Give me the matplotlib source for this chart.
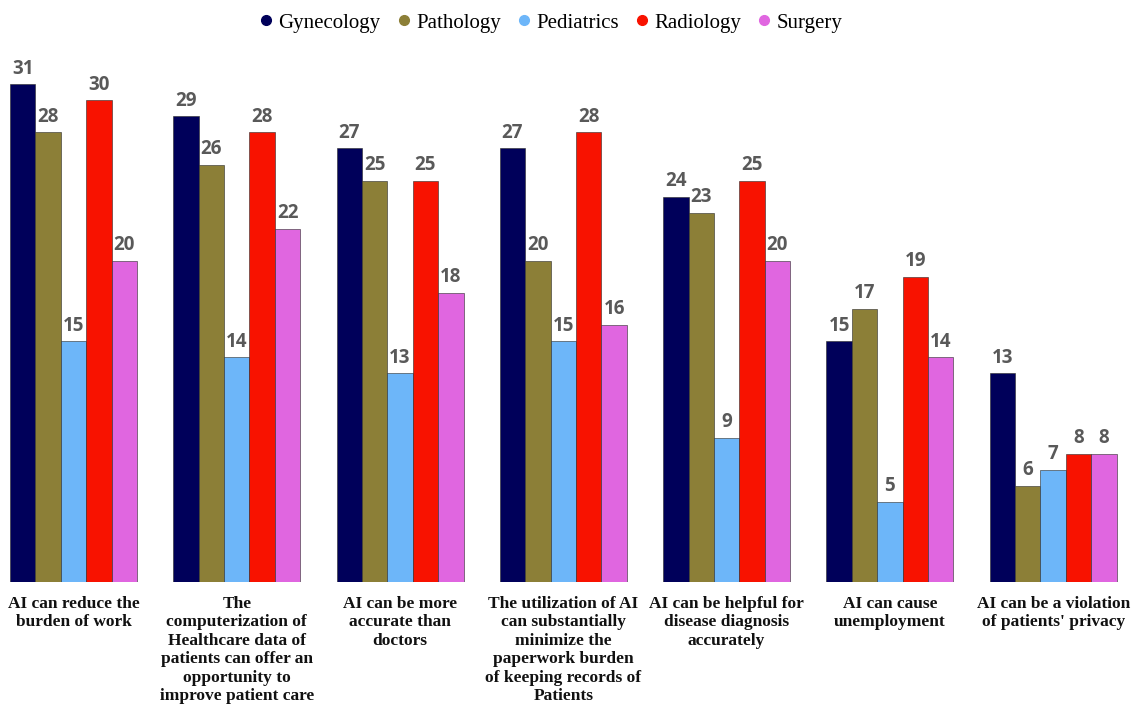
import matplotlib
matplotlib.use("Agg")
import matplotlib.pyplot as plt
import numpy as np

categories = [
    "AI can reduce the\nburden of work",
    "The\ncomputerization of\nHealthcare data of\npatients can offer an\nopportunity to\nimprove patient care",
    "AI can be more\naccurate than\ndoctors",
    "The utilization of AI\ncan substantially\nminimize the\npaperwork burden\nof keeping records of\nPatients",
    "AI can be helpful for\ndisease diagnosis\naccurately",
    "AI can cause\nunemployment",
    "AI can be a violation\nof patients' privacy",
]
series_names = ["Gynecology", "Pathology", "Pediatrics", "Radiology", "Surgery"]
gynecology = [31, 29, 27, 27, 24, 15, 13]
pathology = [28, 26, 25, 20, 23, 17, 6]
pediatrics = [15, 14, 13, 15, 9, 5, 7]
radiology = [30, 28, 25, 28, 25, 19, 8]
surgery = [20, 22, 18, 16, 20, 14, 8]
colors = ["#00005A", "#8C7F37", "#6DB6F9", "#F81200", "#E066E0"]

values = [gynecology, pathology, pediatrics, radiology, surgery]

fig = plt.figure(figsize=(11.32, 7.09), dpi=100)
ax = fig.add_axes([0.0, 0.1791, 0.994, 0.770])

x = np.arange(len(categories))
bw = 0.1556
for i, (name, vals, c) in enumerate(zip(series_names, values, colors)):
    pos = x + (i - 2) * bw
    bars = ax.bar(pos, vals, width=bw, color=c, edgecolor="#2a2a2a", linewidth=0.4, label=name)
    for b, v in zip(bars, vals):
        ax.text(b.get_x() + b.get_width() / 2, v + 0.35, str(v), ha="center", va="bottom",
                fontsize=13.5, fontweight="bold", color="#595959", family="Open Sans")

ax.set_xlim(-0.450, 6.441)
ax.set_ylim(0, 34)
ax.set_yticks([])
ax.set_xticks(x)
ax.set_xticklabels(categories, fontsize=12.5, fontweight="bold", family="Liberation Serif",
                   linespacing=1.2, color="#111111")
ax.tick_params(axis="x", length=0, pad=10)
for s in ax.spines.values():
    s.set_visible(False)

handles = [plt.Line2D([], [], marker="o", linestyle="none", markersize=7, color=c) for c in colors]
fig.legend(handles, series_names, loc="upper center", bbox_to_anchor=(0.485, 1.008), ncol=5,
           frameon=False, prop={"family": "Liberation Serif", "size": 15},
           handletextpad=0.1, columnspacing=0.6, handlelength=1.0)

fig.savefig("out.png", dpi=100)
